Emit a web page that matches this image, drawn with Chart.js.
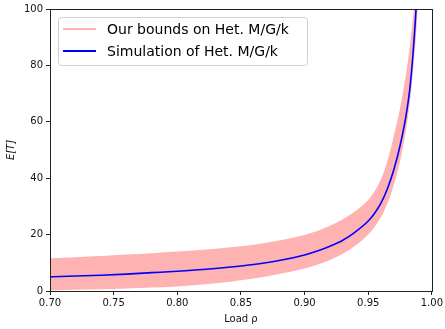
<!DOCTYPE html>
<html>
<head>
<meta charset="utf-8">
<script src="https://cdn.jsdelivr.net/npm/chart.js@4.4.0/dist/chart.umd.min.js"></script>
<style>
  html, body { margin: 0; padding: 0; background: #fff; }
  canvas { display: block; }
</style>
</head>
<body>
<canvas id="chart" width="445" height="329"></canvas>
<script>
// load rho, shared by all series
const rhoValues = [0.70, 0.72, 0.74, 0.76, 0.78, 0.80, 0.82, 0.84, 0.86, 0.88, 0.90,
  0.91, 0.92, 0.93, 0.94, 0.95, 0.955, 0.96, 0.965, 0.97, 0.975, 0.98, 0.983, 0.986, 0.988, 0.99];

// simulation of Het. M/G/k
const simValues = [5.0, 5.3, 5.6, 6.0, 6.5, 7.0, 7.6, 8.4, 9.4, 10.8, 12.8,
  14.2, 15.9, 18.0, 21.0, 24.8, 27.6, 31.2, 36.2, 42.8, 51.5, 63.0, 73.0, 89.0, 104, 130];

// our bounds (upper and lower edge of the band)
const upperValues = [11.6, 12.0, 12.4, 12.9, 13.4, 14.0, 14.6, 15.4, 16.4, 17.9, 19.9,
  21.3, 23.1, 25.4, 28.4, 32.3, 35.4, 39.6, 46.0, 54.8, 64.8, 77.8, 87.8, 100.8, 112, 130];
const lowerValues = [0.2, 0.4, 0.6, 0.9, 1.2, 1.6, 2.3, 3.2, 4.4, 6.0, 8.0,
  9.3, 11.0, 13.2, 16.1, 20.0, 22.7, 26.2, 31.0, 37.5, 46.0, 58.0, 68.0, 82.0, 94.0, 112];

const xTicks = [0.70, 0.75, 0.80, 0.85, 0.90, 0.95, 1.00];
const yTicks = [0, 20, 40, 60, 80, 100];

const boundLabel = "Our bounds on Het. M/G/k";
const simLabel = "Simulation of Het. M/G/k";

const pink = "#ffb2b2";
const blue = "#0000ff";
const fontFamily = "'DejaVu Sans', sans-serif";

function toPoints(ys) {
  return rhoValues.map((x, i) => ({ x: x, y: ys[i] }));
}

// frame round the plot area, like matplotlib spines
const frame = {
  id: "frame",
  afterDatasetsDraw(chart) {
    const { left, top, right, bottom } = chart.chartArea;
    const ctx = chart.ctx;
    ctx.save();
    ctx.strokeStyle = "#222";
    ctx.lineWidth = 1;
    ctx.strokeRect(Math.round(left) + 0.5, Math.round(top) + 0.5,
      Math.round(right - left), Math.round(bottom - top));
    ctx.restore();
  }
};

// legend box in the upper left corner
const legendBox = {
  id: "legendBox",
  afterDraw(chart) {
    const ctx = chart.ctx;
    const { left, top } = chart.chartArea;
    const x = left + 8, y = top + 8, w = 249, h = 48;
    ctx.save();
    ctx.beginPath();
    if (ctx.roundRect) ctx.roundRect(x + 0.5, y + 0.5, w, h, 3);
    else ctx.rect(x + 0.5, y + 0.5, w, h);
    ctx.fillStyle = "rgba(255,255,255,0.8)";
    ctx.fill();
    ctx.strokeStyle = "#d0d0d0";
    ctx.lineWidth = 1;
    ctx.stroke();

    const items = [
      { label: boundLabel, color: pink, dy: 12 },
      { label: simLabel, color: blue, dy: 34 }
    ];
    ctx.font = "14px " + fontFamily;
    ctx.textBaseline = "middle";
    ctx.textAlign = "left";
    items.forEach((it) => {
      ctx.beginPath();
      ctx.moveTo(x + 5, y + it.dy);
      ctx.lineTo(x + 38, y + it.dy);
      ctx.strokeStyle = it.color;
      ctx.lineWidth = 2;
      ctx.stroke();
      ctx.fillStyle = "#000";
      ctx.fillText(it.label, x + 49, y + it.dy + 1);
    });
    ctx.restore();
  }
};

const config = {
  type: "line",
  data: {
    datasets: [
      {
        label: simLabel,
        data: toPoints(simValues),
        borderColor: blue,
        borderWidth: 1.6,
        pointRadius: 0,
        fill: false,
        cubicInterpolationMode: "monotone"
      },
      {
        label: boundLabel,
        data: toPoints(upperValues),
        borderColor: pink,
        backgroundColor: pink,
        borderWidth: 0,
        pointRadius: 0,
        fill: "+1",
        cubicInterpolationMode: "monotone"
      },
      {
        label: boundLabel + " (lower)",
        data: toPoints(lowerValues),
        borderColor: pink,
        borderWidth: 0,
        pointRadius: 0,
        fill: false,
        cubicInterpolationMode: "monotone"
      }
    ]
  },
  options: {
    responsive: false,
    animation: false,
    layout: { padding: { top: 6, right: 12, left: 0, bottom: 0 } },
    plugins: {
      legend: { display: false },
      tooltip: { enabled: false }
    },
    scales: {
      x: {
        type: "linear",
        min: 0.70,
        max: 1.00,
        afterBuildTicks: (s) => { s.ticks = xTicks.map((v) => ({ value: v })); },
        afterFit: (s) => { s.height = 38; },
        border: { display: false },
        grid: { drawOnChartArea: false, drawTicks: true, tickLength: 4, color: "#222" },
        ticks: {
          color: "#111",
          padding: 2,
          maxRotation: 0,
          font: { family: fontFamily, size: 10 },
          callback: (v) => Number(v).toFixed(2)
        },
        title: {
          display: true,
          text: "Load ρ",
          color: "#111",
          font: { family: fontFamily, size: 10 },
          padding: { top: 0, bottom: 4 }
        }
      },
      y: {
        min: 0,
        max: 100,
        afterBuildTicks: (s) => { s.ticks = yTicks.map((v) => ({ value: v })); },
        afterFit: (s) => { s.width = 50; },
        border: { display: false },
        grid: { drawOnChartArea: false, drawTicks: true, tickLength: 4, color: "#222" },
        ticks: {
          color: "#111",
          padding: 3,
          font: { family: fontFamily, size: 10 }
        },
        title: {
          display: true,
          text: "E[T]",
          color: "#111",
          font: { family: fontFamily, size: 10, style: "italic" },
          padding: { top: 5, bottom: 0 }
        }
      }
    }
  },
  plugins: [frame, legendBox]
};

const chart = new Chart(document.getElementById("chart"), config);
</script>
</body>
</html>
